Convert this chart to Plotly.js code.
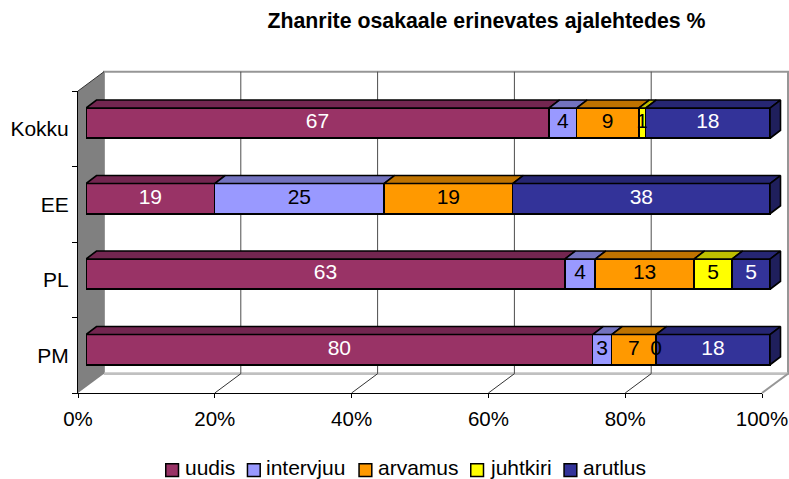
<!DOCTYPE html>
<html><head><meta charset="utf-8">
<script src="https://cdn.plot.ly/plotly-3.0.1.min.js"></script>
<style>html,body{margin:0;padding:0;background:#fff;overflow:hidden}</style>
</head><body><div id="chart" style="width:789px;height:479px"></div>
<script>
// ---- data ----
const categories = ['PM', 'PL', 'EE', 'Kokku'];
const seriesNames = ['uudis', 'intervjuu', 'arvamus', 'juhtkiri', 'arutlus'];
const uudis     = [80, 63, 19, 67];
const intervjuu = [3, 4, 25, 4];
const arvamus   = [7, 13, 19, 9];
const juhtkiri  = [0, 5, null, 1];
const arutlus   = [18, 5, 38, 18];
const xTickVals = [0, 20, 40, 60, 80, 100];
const xTickText = ['0%', '20%', '40%', '60%', '80%', '100%'];
const titleText = 'Zhanrite osakaale erinevates ajalehtedes %';

// ---- styles ----
const colors      = ['#993366', '#9999FF', '#FF9900', '#FFFF00', '#333399'];
const topColors   = ['#732650', '#7373BF', '#BF7300', '#BFBF00', '#262673'];
const sideColor   = '#1F1F5C';
const labelColors = ['#FFFFFF', '#000000', '#000000', '#000000', '#FFFFFF'];
const FONT = 'Liberation Sans, Arial, sans-serif';
const FS = 21;

// ---- geometry (pixels) ----
const W = 789, H = 479;
const front = {left: 78, right: 762, top: 91, bottom: 393};
const depth = {dx: 26, dy: -19.3};
const barOff = {dx: 8, dy: -5.6};
const barDepth = {dx: 10.5, dy: -8};
const barWidth = 0.4;
const x2max = 102.5;
const legendSquareLeft = [165, 246.7, 358.3, 470, 563.3];
const legendSquare = {top: 463, size: 13.5, textGap: 18.5, midY: 467};

const fx = p => p / W, fy = p => 1 - p / H;
const plotPx = front.right - front.left;
const rowPx = (front.bottom - front.top) / categories.length;
const ddx = barDepth.dx / plotPx * 100;
const ddy = -barDepth.dy / rowPx;
const half = barWidth / 2;
const rows = categories.map((_, i) => i);

const seriesVals = [uudis, intervjuu, arvamus, juhtkiri, arutlus];
const totals = rows.map(i => seriesVals.reduce((a, s) => a + (s[i] == null ? 0 : s[i]), 0));
const starts = [], ends = [];
const cum = rows.map(() => 0);
seriesVals.forEach((s, k) => {
  starts[k] = []; ends[k] = [];
  s.forEach((v, i) => {
    starts[k][i] = cum[i];
    if (v != null) cum[i] += v / totals[i] * 100;
    ends[k][i] = cum[i];
  });
});

const traces = [];
// front faces
seriesVals.forEach((s, k) => {
  traces.push({
    type: 'bar', orientation: 'h', name: seriesNames[k],
    x: s, y: rows, width: barWidth, xaxis: 'x2', yaxis: 'y2',
    marker: {color: colors[k], line: {color: '#000000', width: 1.6}},
    hoverinfo: 'name+text', text: s.map(v => v == null ? '' : String(v)), textposition: 'none',
    showlegend: false
  });
});
// top faces
seriesVals.forEach((s, k) => {
  const xs = [], ys = [];
  s.forEach((v, i) => {
    if (v == null || v === 0) return;
    const a = starts[k][i], b = ends[k][i], yt = rows[i] + half;
    xs.push(a, b, b + ddx, a + ddx, a, null);
    ys.push(yt, yt, yt + ddy, yt + ddy, yt, null);
  });
  traces.push({
    type: 'scatter', mode: 'lines', x: xs, y: ys, xaxis: 'x2', yaxis: 'y2',
    fill: 'toself', fillcolor: topColors[k], line: {color: '#000000', width: 1.6},
    showlegend: false, hoverinfo: 'skip'
  });
});
// right side faces of the last segment
{
  const last = seriesVals.length - 1;
  const xs = [], ys = [];
  rows.forEach(i => {
    const b = ends[last][i], r = rows[i];
    xs.push(b, b + ddx, b + ddx, b, b, null);
    ys.push(r - half, r - half + ddy, r + half + ddy, r + half, r - half, null);
  });
  traces.push({
    type: 'scatter', mode: 'lines', x: xs, y: ys, xaxis: 'x2', yaxis: 'y2',
    fill: 'toself', fillcolor: sideColor, line: {color: '#000000', width: 1.6},
    showlegend: false, hoverinfo: 'skip'
  });
}
// value labels
{
  const xs = [], ys = [], ts = [], cs = [];
  seriesVals.forEach((s, k) => {
    s.forEach((v, i) => {
      if (v == null) return;
      xs.push((starts[k][i] + ends[k][i]) / 2);
      ys.push(rows[i]);
      ts.push(String(v));
      cs.push(labelColors[k]);
    });
  });
  traces.push({
    type: 'scatter', mode: 'text', x: xs, y: ys, text: ts, xaxis: 'x2', yaxis: 'y2',
    textposition: 'middle center', textfont: {family: FONT, size: FS, color: cs},
    showlegend: false, hoverinfo: 'skip', cliponaxis: false
  });
}
// dummy on front axes
traces.push({type: 'scatter', x: [], y: [], xaxis: 'x', yaxis: 'y', showlegend: false, hoverinfo: 'skip'});

// ---- walls / floor ----
const bL = front.left + depth.dx, bR = front.right + depth.dx;
const bT = front.top + depth.dy, bB = front.bottom + depth.dy;
const path = pts => 'M' + pts.map(p => fx(p[0]).toFixed(5) + ',' + fy(p[1]).toFixed(5)).join('L') + 'Z';
const shapes = [];
shapes.push({type: 'path', xref: 'paper', yref: 'paper', layer: 'below',
  path: path([[bL, bT], [bR, bT], [bR, bB], [bL, bB]]),
  fillcolor: '#FFFFFF', line: {color: '#969696', width: 2}});
shapes.push({type: 'path', xref: 'paper', yref: 'paper', layer: 'below',
  path: path([[front.left, front.bottom], [front.right, front.bottom], [bR, bB], [bL, bB]]),
  fillcolor: '#FFFFFF', line: {width: 0}});
shapes.push({type: 'line', xref: 'paper', yref: 'paper', layer: 'below',
  x0: fx(bL), y0: fy(bB), x1: fx(bR), y1: fy(bB), line: {color: '#C0C0C0', width: 2.5}});
xTickVals.forEach(v => {
  const f = v / 100;
  if (f > 0 && f < 1) {
    shapes.push({type: 'line', xref: 'paper', yref: 'paper', layer: 'below',
      x0: fx(bL + f * plotPx), y0: fy(bB), x1: fx(bL + f * plotPx), y1: fy(bT),
      line: {color: '#4D4D4D', width: 1}});
  }
  if (f > 0) {
    shapes.push({type: 'line', xref: 'paper', yref: 'paper', layer: 'below',
      x0: fx(front.left + f * plotPx), y0: fy(front.bottom), x1: fx(bL + f * plotPx), y1: fy(bB),
      line: {color: f < 1 ? '#333333' : '#969696', width: f < 1 ? 1 : 2}});
  }
});
shapes.push({type: 'path', xref: 'paper', yref: 'paper', layer: 'below',
  path: path([[front.left, front.top], [bL, bT], [bL, bB], [front.left, front.bottom]]),
  fillcolor: '#808080', line: {width: 0}});
shapes.push({type: 'line', xref: 'paper', yref: 'paper', layer: 'below',
  x0: fx(front.left), y0: fy(front.top), x1: fx(bL), y1: fy(bT), line: {color: '#333333', width: 1}});

// ---- legend (squares + names) ----
const annotations = [];
seriesNames.forEach((n, k) => {
  const l = legendSquareLeft[k];
  shapes.push({type: 'rect', xref: 'paper', yref: 'paper', layer: 'above',
    x0: fx(l + 0.75), x1: fx(l + legendSquare.size), y0: fy(legendSquare.top + 0.75), y1: fy(legendSquare.top + legendSquare.size),
    fillcolor: colors[k], line: {color: '#000000', width: 1.5}});
  annotations.push({xref: 'paper', yref: 'paper', x: fx(l + legendSquare.textGap), y: fy(legendSquare.midY),
    xanchor: 'left', yanchor: 'middle', showarrow: false, text: n, borderpad: 0,
    font: {family: FONT, size: FS, color: '#000000'}});
});

const layout = {
  width: W, height: H, autosize: false,
  margin: {l: 0, r: 0, t: 0, b: 0, pad: 0},
  paper_bgcolor: '#FFFFFF', plot_bgcolor: 'rgba(0,0,0,0)',
  font: {family: FONT, size: FS, color: '#000000'},
  barmode: 'stack', barnorm: 'percent',
  title: {text: '<b>' + titleText + '</b>', font: {family: FONT, size: 21.3, color: '#000000'},
    xref: 'paper', yref: 'paper', x: 486.5 / W, xanchor: 'center', y: fy(21), yanchor: 'middle'},
  xaxis: {domain: [fx(front.left), fx(front.right)], range: [0, 100], anchor: 'y',
    tickvals: xTickVals, ticktext: xTickText, ticks: 'outside', ticklen: 4, tickwidth: 1, tickcolor: '#000000',
    ticklabelstandoff: 3, ticklabeloverflow: 'allow',
    showgrid: false, zeroline: false,
    showline: true, linecolor: '#000000', linewidth: 1, tickfont: {size: 20.5}, fixedrange: true},
  yaxis: {domain: [fy(front.bottom), fy(front.top)], range: [-0.5, categories.length - 0.5], anchor: 'x',
    tickvals: rows, ticktext: categories, ticks: 'outside', ticklen: 4, tickcolor: 'rgba(0,0,0,0)',
    minor: {tickvals: rows.map(r => r - 0.5).concat([categories.length - 0.5]), ticks: 'outside', ticklen: 5.5, tickcolor: '#000000', showgrid: false},
    showgrid: false, zeroline: false, showline: true, linecolor: '#000000', linewidth: 1,
    tickfont: {size: FS}, fixedrange: true},
  xaxis2: {domain: [fx(front.left + barOff.dx), fx(front.left + barOff.dx + plotPx * x2max / 100)],
    range: [0, x2max], anchor: 'y2', visible: false, fixedrange: true},
  yaxis2: {domain: [fy(front.bottom + barOff.dy), fy(front.top + barOff.dy)],
    range: [-0.5, categories.length - 0.5], anchor: 'x2', visible: false, fixedrange: true},
  shapes: shapes,
  annotations: annotations,
  showlegend: false
};

Plotly.newPlot('chart', traces, layout, {displayModeBar: false, staticPlot: true});
</script>
</body></html>
